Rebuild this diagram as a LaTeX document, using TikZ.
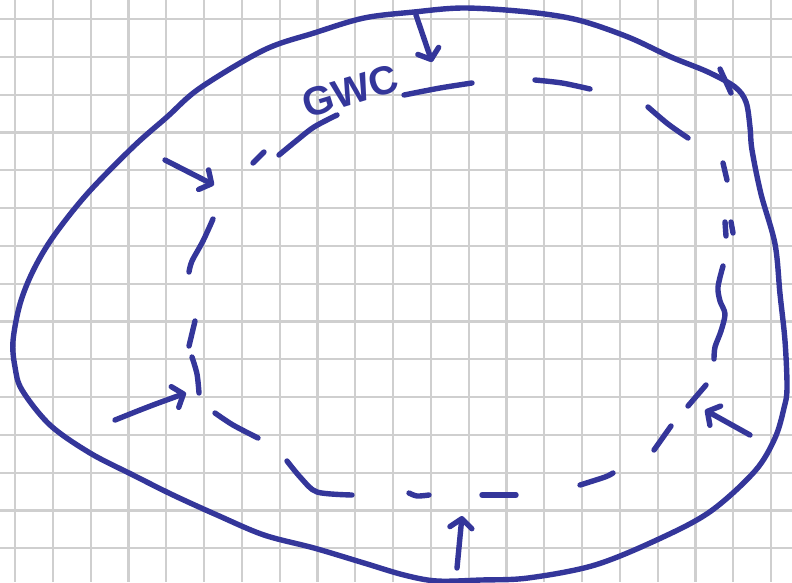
\documentclass[tikz,border=0pt]{standalone}
\usepackage{fontspec}
\newfontfamily\handfont{Liberation Sans}
\usetikzlibrary{arrows.meta}
\definecolor{ink}{HTML}{34369A}
\definecolor{gridc}{HTML}{CFCFCF}
\tikzset{
  pen/.style={draw=ink,line width=5.4pt,line cap=round,line join=round},
  penarr/.style={pen,-{Straight Barb[round,length=9pt,width=22pt]}},
  gridline/.style={draw=gridc,line width=2.2pt},
}

\begin{document}
\begin{tikzpicture}[x=1pt,y=-1pt]
\useasboundingbox (0,0) rectangle (792,582);
\fill[white] (0,0) rectangle (792,582);
% squared paper
\foreach \i in {0,...,20} \draw[gridline] ({15+37.8*\i},0) -- ({15+37.8*\i},582);
\foreach \j in {0,...,14} \draw[gridline] (0,{19+37.8*\j}) -- (792,{19+37.8*\j});

% outer boundary
\draw[pen] plot[smooth cycle,tension=0.55] coordinates {
  (464,8) (528,12) (578,20) (628,37) (671,57) (708,72) (735,87) (746,102)
  (750,127) (752,150) (761,194) (775,244) (780,294) (785,341) (787,388)
  (784,408) (775,438) (755,471) (711,511) (661,538) (595,565) (528,578)
  (481,580) (437,581) (404,575) (364,563) (314,548) (264,535) (217,515)
  (173,495) (133,475) (90,453) (50,425) (22,390) (15,367) (13,341) (20,304)
  (33,271) (53,237) (87,194) (133,147) (167,117) (200,88) (264,50) (314,33)
  (364,18) (414,12)};
\draw[pen] (720,69) -- (731,93);

% dashed inner line
\draw[pen] (253,163) -- (264,152);
\draw[pen] plot[smooth] coordinates {(279,155) (296,141) (314,127) (337,115)};
\draw[pen] plot[smooth] coordinates {(404,95) (440,88) (472,83)};
\draw[pen] plot[smooth] coordinates {(535,80) (562,83) (590,89)};
\draw[pen] plot[smooth] coordinates {(648,107) (668,124) (688,138)};
\draw[pen] (723,163) -- (727,180);
\draw[pen] (725,222) -- (726,236);
\draw[pen] (731,222) -- (733,233);
\draw[pen] plot[smooth] coordinates {(723,266) (718,287) (720,301) (725,314) (721,331) (715,347) (714,359)};
\draw[pen] (706,385) -- (688,406);
\draw[pen] (671,426) -- (654,450);
\draw[pen] plot[smooth] coordinates {(613,473) (605,477) (580,485)};
\draw[pen] (482,495) -- (516,495);
\draw[pen] plot[smooth] coordinates {(409,493) (417,496) (429,495)};
\draw[pen] plot[smooth] coordinates {(287,461) (301,478) (317,492) (352,495)};
\draw[pen] plot[smooth] coordinates {(215,413) (233,425) (258,438)};
\draw[pen] plot[smooth] coordinates {(192,357) (197,374) (199,393)};
\draw[pen] (195,321) -- (189,346);
\draw[pen] plot[smooth] coordinates {(213,219) (203,241) (192,261) (189,272)};

% label
\node[ink,rotate=17,inner sep=0pt,font=\handfont\bfseries\fontsize{40}{40}\selectfont] (gwc) at (350,91) {GWC};

% arrows towards the dashed line
\coordinate (topA) at (416,15);   \coordinate (topB) at (432,62);
\coordinate (luA) at (165,160);   \coordinate (luB) at (214,185);
\coordinate (llA) at (115,420);   \coordinate (llB) at (186,393);
\coordinate (botA) at (457,568);  \coordinate (botB) at (462,516);
\coordinate (rtA) at (750,435);   \coordinate (rtB) at (705,410);
\draw[penarr] (topA) -- (topB);
\draw[penarr] (luA) -- (luB);
\draw[penarr] (llA) .. controls (150,406) .. (llB);
\draw[penarr] (botA) -- (botB);
\draw[penarr] (rtA) -- (rtB);
\end{tikzpicture}
\end{document}
